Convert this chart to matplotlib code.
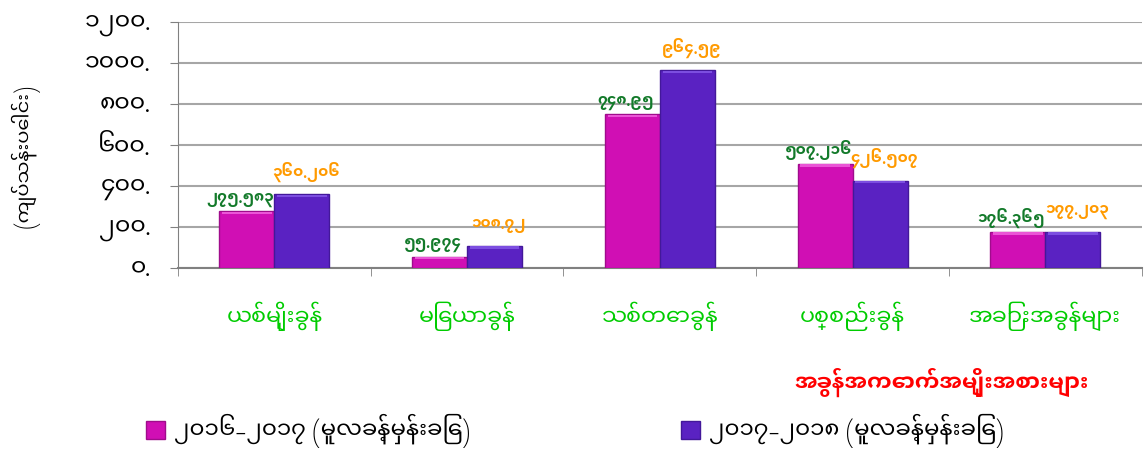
import matplotlib
matplotlib.use("Agg")
import matplotlib.pyplot as plt
import numpy as np

plt.rcParams['font.family'] = ['Noto Sans Myanmar UI', 'Padauk', 'DejaVu Sans']

categories = ["ယစ်မျိုးခွန်", "မြေယာခွန်", "သစ်တောခွန်", "ပစ္စည်းခွန်", "အခြားအခွန်များ"]
series_names = ["၂၀၁၆-၂၀၁၇ (မူလခန့်မှန်းခြေ)", "၂၀၁၇-၂၀၁၈ (မူလခန့်မှန်းခြေ)"]
vals_1617 = [275.583, 55.974, 748.95, 507.216, 176.365]
vals_1718 = [360.206, 108.72, 964.59, 426.507, 177.203]
label_1617 = ["275.583", "55.974", "748.95", "507.216", "176.365"]
label_1718 = ["360.206", "108.72", "964.59", "426.507", "177.203"]
yticks = [0, 200, 400, 600, 800, 1000, 1200]

MM = str.maketrans("0123456789", "၀၁၂၃၄၅၆၇၈၉")
def mm(s):
    return s.translate(MM)

fig = plt.figure(figsize=(11.44, 4.51), dpi=100)
ax = fig.add_axes([0.1556, 0.4058, 0.8424, 0.5454])

x = np.arange(len(categories))
w = 0.285
cols = ["#d00fb4", "#5a22c2"]
tops = ["#ea55d6", "#7c4ee0"]
edges = ["#a00c8c", "#43189a"]
lab_cols = ["#137a2a", "#ff9a00"]
offsets = [(-5, 3), (3, 9)]

handles = []
for i, (vals, labs) in enumerate([(vals_1617, label_1617), (vals_1718, label_1718)]):
    xs = x + (i - 0.5) * w
    b = ax.bar(xs, vals, w, color=cols[i], edgecolor=edges[i], linewidth=1.0, zorder=3)
    # light top face for the bevel look
    ax.bar(xs, [12] * len(vals), w * 0.9, bottom=[v - 14 for v in vals],
           color=tops[i], linewidth=0, zorder=4)
    handles.append(b)
    for xx, v, t in zip(xs, vals, labs):
        ax.annotate(mm(t), (xx, v), xytext=offsets[i], textcoords="offset points",
                    ha="center", va="bottom", color=lab_cols[i], fontsize=11,
                    fontweight="bold", zorder=6)

ax.set_ylim(0, 1200)
ax.set_xlim(-0.5, len(categories) - 0.5)
ax.set_yticks(yticks)
ax.set_yticklabels([mm(str(t)) + "." for t in yticks], fontsize=17)
ax.yaxis.grid(True, color="#a6a6a6", linewidth=1.5, zorder=0)
ax.set_axisbelow(True)
ax.tick_params(axis="y", length=6, color="#808080", pad=14)

ax.set_xticks(x)
ax.set_xticklabels(categories, color="#00cc00", fontsize=16)
ax.set_xticks(np.arange(len(categories) + 1) - 0.5, minor=True)
ax.tick_params(axis="x", which="major", length=0, pad=24)
ax.tick_params(axis="x", which="minor", length=6, color="#808080")

for s in ["top", "right"]:
    ax.spines[s].set_visible(False)
ax.spines["left"].set_color("#808080")
ax.spines["bottom"].set_color("#808080")
ax.spines["bottom"].set_linewidth(1.5)

fig.text(0.022, 0.655, "(ကျပ်သန်းပေါင်း)", rotation=90, ha="center", va="center", fontsize=14)
fig.text(0.823, 0.153, "အခွန်အကောက်အမျိုးအစားများ", color="#ff0000", fontsize=16,
         fontweight="bold", ha="center", va="center")

fig.legend(handles, series_names, loc="center left", bbox_to_anchor=(0.11, 0.045),
           ncol=2, frameon=False, fontsize=16.5, handlelength=0.8, handleheight=0.8,
           columnspacing=9.2, handletextpad=0.4)

fig.savefig("out.png", dpi=100)
